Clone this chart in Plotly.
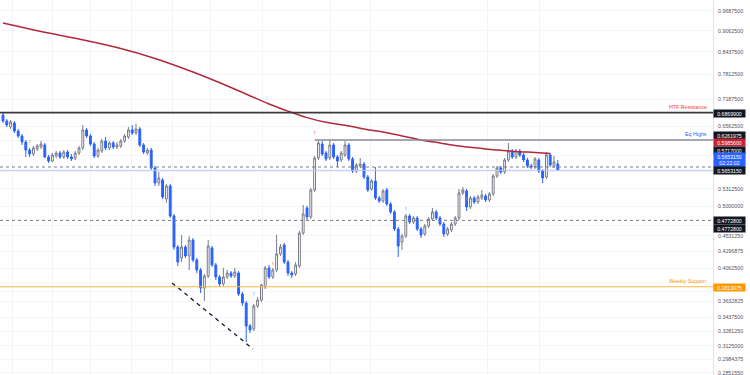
import math
import plotly.graph_objects as go

# ---------------- data ----------------
opens = [0.6816, 0.6679, 0.6545, 0.6634, 0.6457, 0.6349, 0.6221, 0.6055, 0.5974, 0.6076,
         0.6117, 0.6159, 0.5914, 0.5834, 0.5934, 0.5994, 0.5914, 0.6014, 0.5914, 0.5894,
         0.5994, 0.6096, 0.6479, 0.6349, 0.6179, 0.5934, 0.6035, 0.6242, 0.6096, 0.6200,
         0.6117, 0.6138, 0.6242, 0.6328, 0.6479, 0.6414, 0.6501, 0.6159, 0.5994, 0.6055,
         0.5698, 0.5416, 0.5471, 0.5131, 0.5361, 0.4845, 0.4362, 0.4203, 0.4362, 0.4232,
         0.4467, 0.4175, 0.4036, 0.3798, 0.3955, 0.4348, 0.4105, 0.3942, 0.3850, 0.3942,
         0.3995, 0.3955, 0.3995, 0.3722, 0.3610, 0.3340, 0.3307, 0.3574, 0.3647, 0.3811,
         0.4064, 0.3942, 0.4036, 0.4261, 0.4392, 0.4147, 0.3995, 0.3982, 0.4091, 0.4574,
         0.4978, 0.4828, 0.5290, 0.5894, 0.6179, 0.5994, 0.5894, 0.6159, 0.5914, 0.5854,
         0.5954, 0.6159, 0.5874, 0.5640, 0.5737, 0.5776, 0.5527, 0.5307, 0.5453, 0.5149,
         0.5097, 0.5290, 0.5045, 0.4911, 0.4636, 0.4437, 0.4528, 0.4845, 0.4747, 0.4812,
         0.4636, 0.4558, 0.4683, 0.4796, 0.4911, 0.4812, 0.4715, 0.4558, 0.4621, 0.4715,
         0.4812, 0.5236, 0.5272, 0.4994, 0.5149, 0.5079, 0.5149, 0.5183, 0.5114, 0.5219,
         0.5546, 0.5698, 0.5621, 0.5854, 0.6035, 0.5914, 0.6035, 0.5954, 0.5854, 0.5737,
         0.5717, 0.5854, 0.5640, 0.5527, 0.5954, 0.5737, 0.5776]
highs = [0.6862, 0.6724, 0.6702, 0.6679, 0.6501, 0.6392, 0.6264, 0.6096, 0.6138, 0.6179,
         0.6242, 0.6200, 0.5954, 0.5994, 0.6035, 0.6035, 0.6055, 0.6055, 0.5974, 0.6035,
         0.6138, 0.6589, 0.6523, 0.6392, 0.6221, 0.6096, 0.6285, 0.6328, 0.6242, 0.6242,
         0.6221, 0.6285, 0.6392, 0.6545, 0.6589, 0.6612, 0.6545, 0.6200, 0.6096, 0.6096,
         0.5737, 0.5621, 0.5509, 0.5398, 0.5398, 0.4878, 0.4392, 0.4543, 0.4392, 0.4528,
         0.4497, 0.4203, 0.4064, 0.3982, 0.4467, 0.4377, 0.4133, 0.3969, 0.4064, 0.4036,
         0.4022, 0.4064, 0.4022, 0.3747, 0.3635, 0.3363, 0.3598, 0.3684, 0.3850, 0.4091,
         0.4105, 0.4064, 0.4543, 0.4407, 0.4422, 0.4175, 0.4022, 0.4147, 0.4605, 0.5028,
         0.5011, 0.5325, 0.5934, 0.6264, 0.6242, 0.6035, 0.6264, 0.6200, 0.5954, 0.6035,
         0.6242, 0.6200, 0.5914, 0.5795, 0.5894, 0.5815, 0.5565, 0.5490, 0.5717, 0.5183,
         0.5307, 0.5325, 0.5079, 0.4944, 0.4668, 0.4558, 0.4878, 0.4878, 0.4845, 0.4845,
         0.4668, 0.4715, 0.4828, 0.4978, 0.4944, 0.4845, 0.4747, 0.4668, 0.4747, 0.4845,
         0.5307, 0.5343, 0.5307, 0.5183, 0.5183, 0.5201, 0.5290, 0.5219, 0.5254, 0.5584,
         0.5737, 0.5737, 0.5894, 0.6200, 0.6076, 0.6076, 0.6076, 0.5994, 0.5894, 0.5776,
         0.5914, 0.5894, 0.5679, 0.6014, 0.5994, 0.5934, 0.5854]
lows = [0.6634, 0.6545, 0.6501, 0.6414, 0.6306, 0.6159, 0.5914, 0.5914, 0.5934, 0.6035,
        0.6076, 0.5894, 0.5795, 0.5815, 0.5894, 0.5874, 0.5874, 0.5874, 0.5834, 0.5854,
        0.5954, 0.6055, 0.6306, 0.6138, 0.5894, 0.5894, 0.5994, 0.6055, 0.6055, 0.6076,
        0.6076, 0.6096, 0.6200, 0.6285, 0.6370, 0.6370, 0.6117, 0.5974, 0.5954, 0.5660,
        0.5361, 0.5361, 0.5131, 0.5062, 0.4812, 0.4319, 0.4091, 0.4147, 0.4203, 0.4036,
        0.4147, 0.3995, 0.3734, 0.3635, 0.3928, 0.4077, 0.3902, 0.3811, 0.3824, 0.3915,
        0.3928, 0.3928, 0.3697, 0.3574, 0.3164, 0.3262, 0.3284, 0.3550, 0.3622, 0.3785,
        0.3915, 0.3915, 0.4009, 0.4232, 0.4119, 0.3955, 0.3928, 0.3955, 0.4064, 0.4543,
        0.4779, 0.4796, 0.5254, 0.5854, 0.5934, 0.5834, 0.5854, 0.5874, 0.5717, 0.5815,
        0.5914, 0.5834, 0.5602, 0.5602, 0.5698, 0.5490, 0.5254, 0.5272, 0.5114, 0.5062,
        0.5062, 0.5011, 0.4878, 0.4605, 0.4218, 0.4319, 0.4497, 0.4715, 0.4715, 0.4605,
        0.4497, 0.4528, 0.4652, 0.4763, 0.4779, 0.4683, 0.4512, 0.4528, 0.4589, 0.4683,
        0.4779, 0.5201, 0.4927, 0.4961, 0.5045, 0.5045, 0.5114, 0.5079, 0.5079, 0.5183,
        0.5509, 0.5584, 0.5584, 0.5815, 0.5874, 0.5874, 0.5914, 0.5815, 0.5698, 0.5679,
        0.5679, 0.5602, 0.5416, 0.5490, 0.5717, 0.5698, 0.5640]
closes = [0.6679, 0.6589, 0.6657, 0.6457, 0.6349, 0.6221, 0.6055, 0.5974, 0.6096, 0.6138,
          0.6179, 0.5914, 0.5834, 0.5954, 0.5994, 0.5914, 0.6014, 0.5914, 0.5874, 0.5994,
          0.6096, 0.6479, 0.6349, 0.6179, 0.5934, 0.6055, 0.6242, 0.6096, 0.6200, 0.6117,
          0.6159, 0.6242, 0.6349, 0.6479, 0.6414, 0.6501, 0.6159, 0.6014, 0.6055, 0.5698,
          0.5416, 0.5509, 0.5166, 0.5361, 0.4845, 0.4362, 0.4147, 0.4362, 0.4232, 0.4467,
          0.4175, 0.4036, 0.3798, 0.3955, 0.4377, 0.4105, 0.3942, 0.3850, 0.3942, 0.3995,
          0.3955, 0.4009, 0.3722, 0.3610, 0.3340, 0.3295, 0.3574, 0.3647, 0.3837, 0.4064,
          0.3942, 0.4036, 0.4261, 0.4362, 0.4147, 0.3995, 0.3969, 0.4105, 0.4574, 0.4878,
          0.4828, 0.5290, 0.5894, 0.6200, 0.5974, 0.5874, 0.6159, 0.5914, 0.5834, 0.5994,
          0.6159, 0.5874, 0.5640, 0.5756, 0.5776, 0.5527, 0.5290, 0.5453, 0.5149, 0.5097,
          0.5272, 0.5045, 0.4911, 0.4636, 0.4377, 0.4528, 0.4845, 0.4747, 0.4812, 0.4636,
          0.4543, 0.4683, 0.4796, 0.4911, 0.4812, 0.4715, 0.4558, 0.4636, 0.4715, 0.4812,
          0.5236, 0.5290, 0.4994, 0.5149, 0.5079, 0.5166, 0.5201, 0.5114, 0.5219, 0.5546,
          0.5698, 0.5621, 0.5854, 0.6035, 0.5914, 0.6035, 0.5954, 0.5854, 0.5737, 0.5717,
          0.5874, 0.5640, 0.5509, 0.5954, 0.5756, 0.5815, 0.565315]
bars = list(range(len(opens)))

# 200-period moving average (sampled at bar indices)
ma_bars = [0, 10, 20, 30, 40, 50, 60, 70, 75, 80, 85, 90, 95, 100, 105, 110, 115, 120, 125, 130, 135, 140, 144]
ma_vals = [0.9302, 0.9040, 0.8810, 0.8560, 0.8250, 0.7880, 0.7480, 0.7075, 0.6905, 0.6755, 0.6650, 0.6585,
           0.6501, 0.6436, 0.6349, 0.6264, 0.6200, 0.6138, 0.6096, 0.6055, 0.6025, 0.6005, 0.59856]

# horizontal levels
htf_resistance = 0.68699
eq_highs = 0.6261975
eq_highs_start_bar = 82
level_upper_dash = 0.5717
last_price = 0.565315
level_lower_dash = 0.47728
weekly_support = 0.3813975

# hand-drawn trend line
trend_bars = [44.5, 65.8]
trend_prices = [0.3863, 0.3090]

# alert markers
sig_bars = [7, 35, 40, 66, 71, 82, 95, 106, 122, 130]
sig_prices = [0.6221, 0.6612, 0.5630, 0.3709, 0.4105, 0.6392, 0.5527, 0.4944, 0.5114, 0.5815]
sig_colors = ['#4caf50', '#f7a5a8', '#4caf50', '#4caf50', '#f23645', '#f23645', '#4caf50', '#4caf50',
              '#f7a5a8', '#f7a5a8']

# price scale
tick_vals = [0.96875, 0.90625, 0.84375, 0.78125, 0.71875, 0.65625, 0.6875, 0.625, 0.59375, 0.5625,
             0.53125, 0.5, 0.46875, 0.453125, 0.4296875, 0.40625, 0.375, 0.3632825, 0.34375,
             0.328125, 0.3125, 0.2984375, 0.285155]
tick_text = ['0.9687500', '0.9062500', '0.8437500', '0.7812500', '0.7187500', '0.6562500', '', '', '', '',
             '0.5312500', '0.5000000', '', '0.4531250', '0.4296875', '0.4062500', '', '0.3632825', '0.3437500',
             '0.3281250', '0.3125000', '0.2984375', '0.2851550']

grid_bars = [2.6, 12.9, 22.9, 33.7, 44.5, 54.5, 68.4, 86.3, 96.6, 127.4, 141.3]

W, H = 750, 375
FONT = 'Liberation Sans, Arial, sans-serif'

fig = go.Figure()

fig.add_trace(go.Candlestick(
    x=bars, open=opens, high=highs, low=lows, close=closes,
    increasing=dict(line=dict(color='#787b86', width=1), fillcolor='#ffffff'),
    decreasing=dict(line=dict(color='#2962ff', width=1), fillcolor='#2962ff'),
    whiskerwidth=0, hoverinfo='skip', showlegend=False))

fig.add_trace(go.Scatter(x=ma_bars, y=ma_vals, mode='lines', line=dict(color='#b2283b', width=1.5, shape='spline'),
                         hoverinfo='skip', showlegend=False))

fig.add_trace(go.Scatter(x=trend_bars, y=trend_prices, mode='lines', line=dict(color='#131722', width=1.3, dash='4px,4px'),
                         hoverinfo='skip', showlegend=False))

fig.add_trace(go.Scatter(x=sig_bars, y=sig_prices, mode='text', text=['!'] * len(sig_bars),
                         textfont=dict(color=sig_colors, size=6, family=FONT), hoverinfo='skip', showlegend=False))

# level lines
shapes = [
    dict(type='line', xref='paper', x0=0, x1=1, yref='y', y0=htf_resistance, y1=htf_resistance,
         line=dict(color='#3a3a3a', width=1.6)),
    dict(type='line', xref='x', x0=eq_highs_start_bar, x1=200, yref='y', y0=eq_highs, y1=eq_highs,
         line=dict(color='#8a8d96', width=1.4)),
    dict(type='line', xref='paper', x0=0, x1=1, yref='y', y0=level_upper_dash, y1=level_upper_dash,
         line=dict(color='#787b86', width=1, dash='3px,3px')),
    dict(type='line', xref='paper', x0=0, x1=1, yref='y', y0=last_price, y1=last_price,
         line=dict(color='#b8c8f8', width=1)),
    dict(type='line', xref='paper', x0=0, x1=1, yref='y', y0=level_lower_dash, y1=level_lower_dash,
         line=dict(color='#787b86', width=1, dash='3px,3px')),
    dict(type='line', xref='paper', x0=0, x1=1, yref='y', y0=weekly_support, y1=weekly_support,
         line=dict(color='#ffb74d', width=1.2)),
]

annotations = []
# level captions
for txt, lvl, col in [('HTF Resistance', htf_resistance, '#f23645'),
                      ('Eq Highs', eq_highs, '#2962ff'),
                      ('Weekly Support', weekly_support, '#ff9800')]:
    annotations.append(dict(text=txt, xref='paper', x=0.994, xanchor='right', yref='y', y=math.log10(lvl),
                            yanchor='bottom', yshift=1, showarrow=False, font=dict(size=5.3, color=col, family=FONT)))

# price-scale label boxes (pixel centre, text, colour)
boxes = [(113.3, '0.6869900', '#131722'), (135.0, '0.6261975', '#131722'), (142.7, '0.5985600', '#c2262e'),
         (150.3, '0.5717000', '#131722'), (160.0, '0.5653150<br>02:22:02', '#2962ff'),
         (170.7, '0.5653150', '#131722'), (220.7, '0.4772800', '#131722'), (228.3, '0.4772800', '#131722'),
         (287.3, '0.3813975', '#ff9800')]
for py, txt, col in boxes:
    two = '<br>' in txt
    annotations.append(dict(text=txt, xref='paper', x=1, xanchor='left', xshift=0, yref='paper',
                            y=1 - py / H, yanchor='middle', showarrow=False, bgcolor=col, borderpad=0,
                            width=31, height=14 if two else 7.2, align='center',
                            font=dict(size=5.2, color='#ffffff', family=FONT)))

fig.update_layout(
    width=W, height=H, margin=dict(l=0, r=37, t=0, b=0),
    paper_bgcolor='#ffffff', plot_bgcolor='#ffffff', showlegend=False, hovermode=False,
    shapes=shapes, annotations=annotations,
    xaxis=dict(range=[-0.79, 186.84], rangeslider=dict(visible=False), showticklabels=False,
               tickvals=grid_bars, showgrid=True, gridcolor='#f2f4f9', gridwidth=1, zeroline=False, ticks=''),
    yaxis=dict(type='log', side='right', range=[math.log10(0.2830), math.log10(1.0054)],
               tickvals=tick_vals, ticktext=tick_text, showgrid=True, gridcolor='#f2f4f9', gridwidth=1,
               ticks='', ticklabelstandoff=3, ticklabeloverflow='allow',
               tickfont=dict(size=5.3, color='#50535e', family=FONT),
               showline=True, linecolor='#e0e3eb', linewidth=1, zeroline=False),
)

fig.write_html('out.html', config={'displayModeBar': False},
               post_script="document.body.style.margin='0';document.body.style.overflow='hidden';")
